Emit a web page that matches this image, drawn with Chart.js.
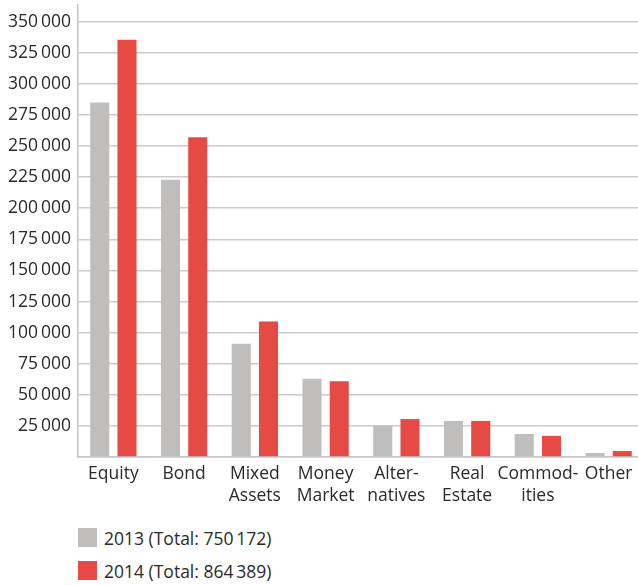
<!DOCTYPE html>
<html>
<head>
<meta charset="utf-8">
<script src="https://cdn.jsdelivr.net/npm/chart.js@4"></script>
<style>
  html, body { margin: 0; padding: 0; background: #fff; overflow: hidden; }
  #wrap { position: relative; width: 644px; height: 585px; }
  #chart-box { position: absolute; left: 0; top: 0; width: 644px; height: 510px; }
  #legend { position: absolute; left: 78px; top: 528px; font-family: 'Open Sans', sans-serif; font-size: 17.5px; color: #2a2a2a; }
  .legend-row { display: flex; align-items: center; height: 19px; margin-bottom: 14px; }
  .legend-box { width: 19px; height: 19px; margin-right: 7px; }
</style>
</head>
<body>
<div id="wrap">
  <div id="chart-box"><canvas id="fund-chart"></canvas></div>
  <div id="legend"></div>
</div>
<script>
const categories = ['Equity', 'Bond', ['Mixed', 'Assets'], ['Money', 'Market'], ['Alter-', 'natives'], ['Real', 'Estate'], ['Commod-', 'ities'], 'Other'];
const values2013 = [285000, 223000, 91000, 63000, 25000, 29000, 18500, 3200];
const values2014 = [335500, 257000, 109000, 61000, 30500, 29000, 17000, 4800];
const seriesLabels = ['2013 (Total: 750\u2009172)', '2014 (Total: 864\u2009389)'];
const yTicks = [25000, 50000, 75000, 100000, 125000, 150000, 175000, 200000, 225000, 250000, 275000, 300000, 325000, 350000];

const GREY = '#bfbebc';
const RED = '#e64a45';
const fontSpec = { family: "'Open Sans', sans-serif", size: 17.5, lineHeight: 1.25 };

const groupThousands = (value) =>
  String(value).replace(/\B(?=(\d{3})+(?!\d))/g, '\u2009');

const chartCanvas = document.getElementById('fund-chart');

const chart = new Chart(chartCanvas, {
  type: 'bar',
  data: {
    labels: categories,
    datasets: [
      {
        label: seriesLabels[0],
        data: values2013,
        backgroundColor: GREY,
        barPercentage: 0.7,
        categoryPercentage: 0.77,
      },
      {
        label: seriesLabels[1],
        data: values2014,
        backgroundColor: RED,
        barPercentage: 0.7,
        categoryPercentage: 0.77,
      },
    ],
  },
  options: {
    responsive: true,
    maintainAspectRatio: false,
    animation: false,
    layout: {
      padding: { top: 5, right: 0, left: 0, bottom: 0 },
    },
    plugins: {
      legend: { display: false },
      tooltip: { enabled: false },
    },
    scales: {
      x: {
        grid: { display: false, drawTicks: false },
        border: { display: true, color: '#c6c6c6', width: 1.5 },
        ticks: {
          color: '#2a2a2a',
          font: fontSpec,
          padding: 6,
          maxRotation: 0,
          autoSkip: false,
        },
        afterFit: (scale) => {
          scale.height = 53;
          scale.paddingLeft = 0;
          scale.paddingRight = 0;
        },
      },
      y: {
        min: 0,
        max: 363400,
        grid: { color: '#cbcbcb', lineWidth: 1.5, drawTicks: false },
        border: { display: true, color: '#c6c6c6', width: 1.5 },
        ticks: {
          color: '#2a2a2a',
          font: fontSpec,
          padding: 7,
          callback: (value) => (value === 0 ? '' : groupThousands(value)),
        },
        afterBuildTicks: (scale) => {
          scale.ticks = [0, ...yTicks].map((v) => ({ value: v }));
        },
        afterFit: (scale) => {
          scale.width = 78;
          scale.paddingTop = 0;
          scale.paddingBottom = 0;
        },
      },
    },
  },
});

// legend stacked under the chart, as in the source figure
const legendBox = document.getElementById('legend');
chart.data.datasets.forEach((ds) => {
  const row = document.createElement('div');
  row.className = 'legend-row';
  const swatch = document.createElement('span');
  swatch.className = 'legend-box';
  swatch.style.background = ds.backgroundColor;
  const text = document.createElement('span');
  text.textContent = ds.label;
  row.appendChild(swatch);
  row.appendChild(text);
  legendBox.appendChild(row);
});
</script>
</body>
</html>
